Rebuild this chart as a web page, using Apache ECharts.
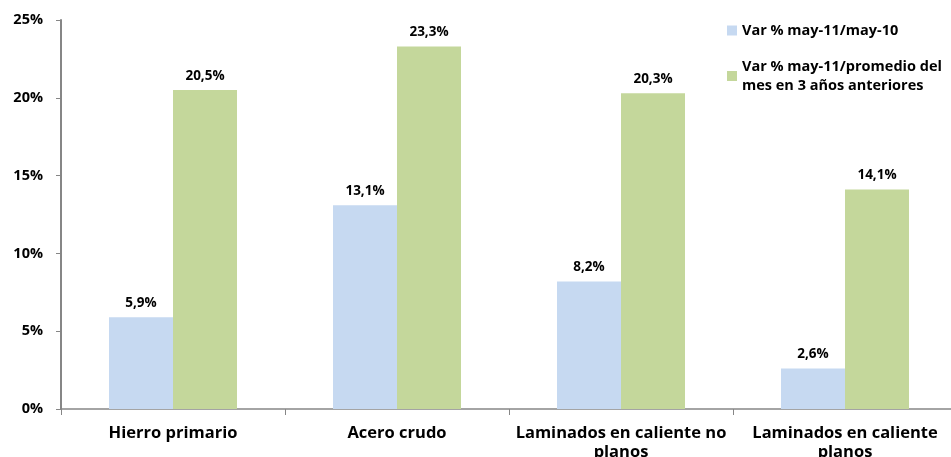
<!DOCTYPE html>
<html>
<head>
<meta charset="utf-8">
<script src="https://cdn.jsdelivr.net/npm/echarts@6/dist/echarts.min.js"></script>
<style>
  html, body {margin: 0; padding: 0; background: #fff;}
  #chart {width: 951px; height: 457px;}
</style>
</head>
<body>
<div id="chart"></div>
<script>
const categories = ['Hierro primario', 'Acero crudo', 'Laminados en caliente no\nplanos', 'Laminados en caliente\nplanos'];
const seriesNames = ['Var % may-11/may-10', 'Var % may-11/promedio del\nmes en 3 años anteriores'];
const varAnual = [5.9, 13.1, 8.2, 2.6];
const varPromedio = [20.5, 23.3, 20.3, 14.1];

const font = 'Open Sans';
const fmt = v => v.toFixed(1).replace('.', ',') + '%';

const myChart = echarts.init(document.getElementById('chart'));
myChart.setOption({
    animation: false,
    grid: {left: 61, width: 896, top: 20, bottom: 48, outerBoundsMode: 'none'},
    legend: {
        orient: 'vertical',
        left: 722,
        top: 16,
        itemWidth: 10,
        itemHeight: 10,
        itemGap: 17,
        icon: 'rect',
        textStyle: {fontFamily: font, fontWeight: 'bold', fontSize: 14.5, color: '#000', lineHeight: 19},
        data: seriesNames
    },
    xAxis: {
        type: 'category',
        data: categories,
        axisLine: {lineStyle: {color: '#868686', width: 1.5}},
        axisTick: {show: true, interval: 0, length: 6, lineStyle: {color: '#868686'}},
        axisLabel: {interval: 0, fontFamily: font, fontWeight: 'bold', fontSize: 16.5, color: '#000', margin: 15, lineHeight: 19}
    },
    yAxis: {
        type: 'value',
        min: 0,
        max: 25,
        interval: 5,
        splitLine: {show: false},
        axisLine: {show: true, lineStyle: {color: '#868686', width: 2}},
        axisTick: {show: true, length: 5, lineStyle: {color: '#868686'}},
        axisLabel: {fontFamily: font, fontWeight: 'bold', fontSize: 14.5, color: '#000', margin: 18, formatter: '{value}%'}
    },
    series: [{
        name: seriesNames[0],
        type: 'bar',
        data: varAnual,
        barWidth: 64,
        barGap: '0%',
        itemStyle: {color: '#c6d9f1'},
        label: {show: true, position: 'top', distance: 7, fontFamily: font, fontWeight: 'bold', fontSize: 13.5, color: '#000', formatter: p => fmt(p.value)}
    }, {
        name: seriesNames[1],
        type: 'bar',
        data: varPromedio,
        barWidth: 64,
        barGap: '0%',
        itemStyle: {color: '#c4d79b'},
        label: {show: true, position: 'top', distance: 7, fontFamily: font, fontWeight: 'bold', fontSize: 13.5, color: '#000', formatter: p => fmt(p.value)}
    }]
});
</script>
</body>
</html>
